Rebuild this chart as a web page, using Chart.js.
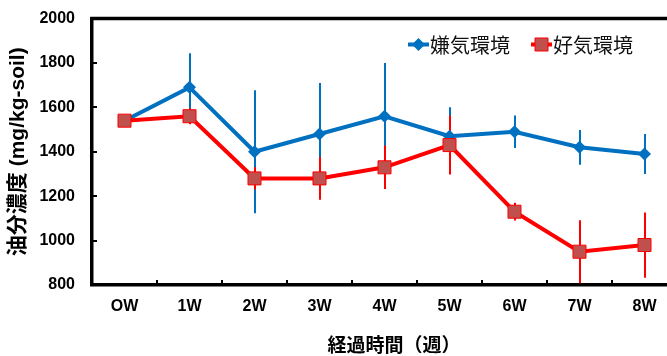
<!DOCTYPE html>
<html>
<head>
<meta charset="utf-8">
<script src="https://cdn.jsdelivr.net/npm/chart.js@4.4.1/dist/chart.umd.min.js"></script>
<style>
  html, body { margin: 0; padding: 0; overflow: hidden; background: #fff; }
  canvas { display: block; }
</style>
</head>
<body>
<canvas id="c" width="677" height="356" style="width:677px;height:356px"></canvas>
<script>
// Oil concentration in soil over elapsed weeks (mean ± error)
const weeks = ['OW', '1W', '2W', '3W', '4W', '5W', '6W', '7W', '8W'];
const anaerobic = [1540, 1690, 1400, 1480, 1560, 1470, 1490, 1420, 1390];
const anaerobicErr = [0, 154, 277, 230, 240, 130, 73, 78, 90];
const aerobic = [1540, 1560, 1280, 1280, 1330, 1430, 1130, 950, 980];
const aerobicErr = [0, 36, 50, 96, 98, 133, 40, 142, 147];
const yTicks = [800, 1000, 1200, 1400, 1600, 1800, 2000];
const seriesNames = ['嫌気環境', '好気環境'];
const yTitle = '油分濃度 (mg/kg-soil)';
const xTitle = '　経過時間（週）';

const BLUE = '#0070C0';
const RED = '#FF0000';
const RED_FILL = '#C0504D';
const LATIN = "'Liberation Sans', Arial, 'Noto Sans CJK JP', sans-serif";
const CJK = "'Noto Sans CJK JP', 'Liberation Sans', sans-serif";

// Vertical error bars drawn under the lines
const errorBars = {
  id: 'errorBars',
  beforeDatasetsDraw(chart) {
    const { ctx, chartArea, scales: { x, y } } = chart;
    ctx.save();
    ctx.beginPath();
    ctx.rect(chartArea.left, chartArea.top, chartArea.right - chartArea.left, chartArea.bottom - chartArea.top);
    ctx.clip();
    chart.data.datasets.forEach(ds => {
      ctx.strokeStyle = ds.errorColor;
      ctx.lineWidth = 2;
      ds.data.forEach((v, i) => {
        const e = ds.errors[i];
        if (!e) return;
        const px = Math.round(x.getPixelForValue(i));
        ctx.beginPath();
        ctx.moveTo(px, y.getPixelForValue(v + e));
        ctx.lineTo(px, y.getPixelForValue(v - e));
        ctx.stroke();
      });
    });
    ctx.restore();
  }
};

// Frame top edge and inward-pointing tick marks
const frame = {
  id: 'frame',
  afterDraw(chart) {
    const { ctx, chartArea, scales: { x, y } } = chart;
    ctx.save();
    ctx.strokeStyle = '#000';
    ctx.lineWidth = 3.5;
    ctx.beginPath();
    ctx.moveTo(chartArea.left - 1.75, chartArea.top);
    ctx.lineTo(chartArea.right, chartArea.top);
    ctx.stroke();

    ctx.lineWidth = 2;
    y.ticks.forEach(t => {
      if (t.value === y.min || t.value === y.max) return;
      const py = Math.round(y.getPixelForValue(t.value));
      ctx.beginPath();
      ctx.moveTo(chartArea.left, py);
      ctx.lineTo(chartArea.left + 5, py);
      ctx.stroke();
    });
    for (let i = 1; i < weeks.length; i++) {
      const px = Math.round((x.getPixelForValue(i - 1) + x.getPixelForValue(i)) / 2);
      ctx.beginPath();
      ctx.moveTo(px, chartArea.bottom);
      ctx.lineTo(px, chartArea.bottom - 5);
      ctx.stroke();
    }
    ctx.restore();
  }
};

// Legend inside the plot, line sample with marker then label
const insideLegend = {
  id: 'insideLegend',
  afterDraw(chart) {
    const { ctx, chartArea } = chart;
    ctx.save();
    ctx.font = "20px " + CJK;
    ctx.textBaseline = 'middle';
    const cy = chartArea.top + 26;
    let lx = chartArea.left + 316;
    chart.data.datasets.forEach(ds => {
      const mx = lx + 10.5;
      ctx.strokeStyle = ds.borderColor;
      ctx.lineWidth = 4;
      ctx.beginPath();
      ctx.moveTo(lx, cy);
      ctx.lineTo(lx + 21, cy);
      ctx.stroke();
      ctx.fillStyle = ds.pointBackgroundColor;
      ctx.strokeStyle = ds.pointBorderColor;
      ctx.lineWidth = ds.pointBorderWidth;
      ctx.beginPath();
      if (ds.pointStyle === 'rect') {
        const s = Math.SQRT1_2 * ds.pointRadius;
        ctx.rect(mx - s, cy - s, 2 * s, 2 * s);
      } else {
        const r = ds.pointRadius;
        ctx.moveTo(mx, cy - r);
        ctx.lineTo(mx + r, cy);
        ctx.lineTo(mx, cy + r);
        ctx.lineTo(mx - r, cy);
        ctx.closePath();
      }
      ctx.fill();
      if (ds.pointBorderWidth) ctx.stroke();
      ctx.fillStyle = '#111';
      ctx.fillText(ds.label, lx + 22, cy + 1);
      lx += 123;
    });
    ctx.restore();
  }
};

new Chart(document.getElementById('c'), {
  type: 'line',
  data: {
    labels: weeks,
    datasets: [
      {
        label: seriesNames[0],
        data: anaerobic,
        errors: anaerobicErr,
        errorColor: BLUE,
        borderColor: BLUE,
        borderWidth: 4,
        pointStyle: 'rectRot',
        pointRadius: 6.5,
        pointBackgroundColor: BLUE,
        pointBorderColor: BLUE,
        pointBorderWidth: 0,
        tension: 0,
        order: 1
      },
      {
        label: seriesNames[1],
        data: aerobic,
        errors: aerobicErr,
        errorColor: RED,
        borderColor: RED,
        borderWidth: 4,
        pointStyle: 'rect',
        pointRadius: 9.2,
        pointBackgroundColor: RED_FILL,
        pointBorderColor: RED,
        pointBorderWidth: 1,
        tension: 0,
        order: 0
      }
    ]
  },
  options: {
    responsive: false,
    animation: false,
    devicePixelRatio: 1,
    layout: { autoPadding: false, padding: { top: 18.5, right: 0, left: 0, bottom: 0 } },
    plugins: { legend: { display: false }, tooltip: { enabled: false } },
    scales: {
      x: {
        offset: true,
        grid: { display: true, drawOnChartArea: false, drawTicks: false, offset: true },
        border: { display: true, color: '#000', width: 3.5 },
        ticks: { color: '#000', font: { family: LATIN, size: 16, weight: 'bold' }, padding: 12, maxRotation: 0 },
        title: { display: true, text: xTitle, color: '#000', font: { family: CJK, size: 19, weight: 'bold', lineHeight: 1.0 }, padding: { top: 0, bottom: 2 } },
        afterFit(s) { s.height = 71; }
      },
      y: {
        min: 800,
        max: 2000,
        afterBuildTicks(s) { s.ticks = yTicks.map(v => ({ value: v })); },
        grid: { display: true, drawOnChartArea: false, drawTicks: true, tickLength: 17, tickColor: 'rgba(0,0,0,0)' },
        border: { display: true, color: '#000', width: 3.5 },
        ticks: { color: '#000', font: { family: LATIN, size: 16, weight: 'bold' }, padding: 0, callback: v => String(v) },
        title: { display: true, text: yTitle, color: '#000', font: { family: LATIN, size: 21, weight: 'bold' }, padding: { top: 6, bottom: 0 } },
        afterFit(s) { s.width = 92; }
      }
    }
  },
  plugins: [errorBars, frame, insideLegend]
});
</script>
</body>
</html>
